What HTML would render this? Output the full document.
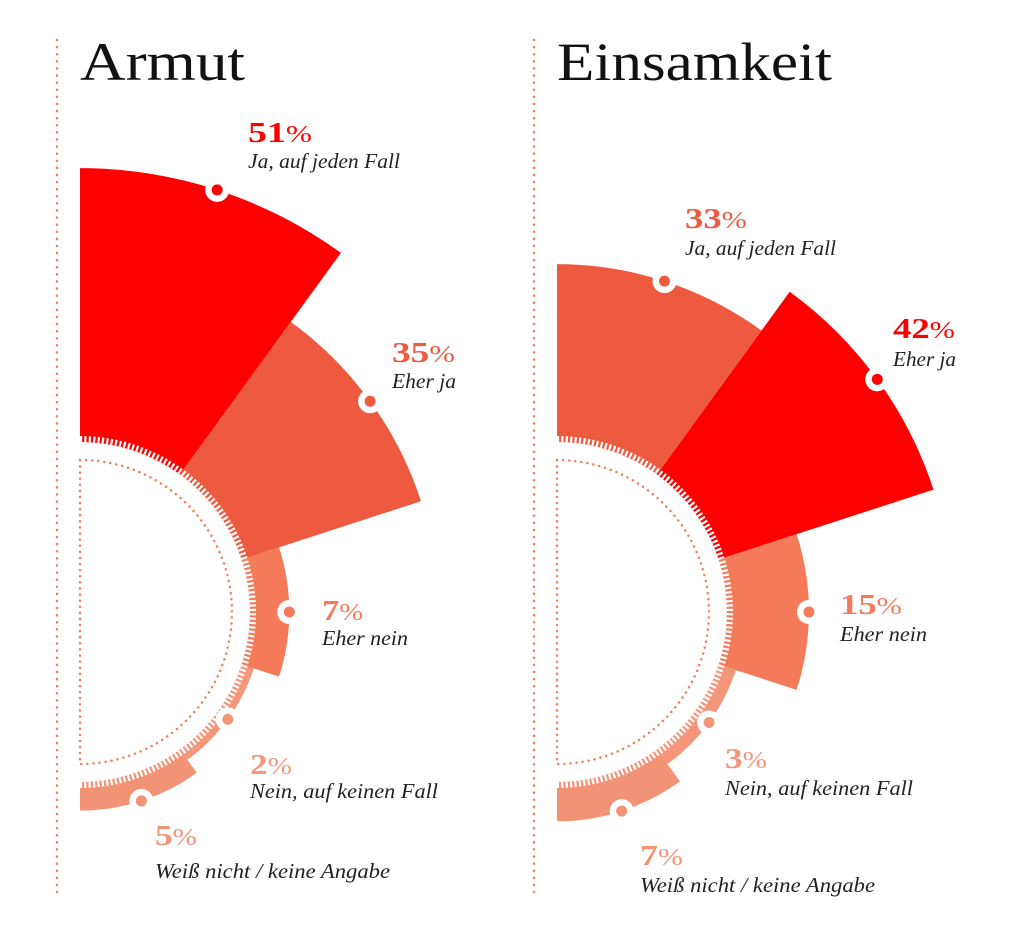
<!DOCTYPE html>
<html><head><meta charset="utf-8"><style>
html,body{margin:0;padding:0;background:#fff}
svg{display:block}
.t{font-family:"Liberation Serif",serif;font-size:54px;fill:#111}
.p{font-family:"Liberation Serif",serif;font-size:29px;font-weight:bold}
.l{font-family:"Liberation Serif",serif;font-size:21px;font-style:italic;fill:#222}
</style></head><body>
<svg id="s" width="1031" height="931" viewBox="0 0 1031 931" xmlns="http://www.w3.org/2000/svg">
<line x1="57" y1="40" x2="57" y2="892" stroke="#f08060" stroke-width="2.5" stroke-dasharray="0.1 7" stroke-linecap="round"/>
<line x1="534" y1="40" x2="534" y2="892" stroke="#f08060" stroke-width="2.5" stroke-dasharray="0.1 7" stroke-linecap="round"/>
<text class="t" x="80" y="80" textLength="165" lengthAdjust="spacingAndGlyphs">Armut</text>
<text class="t" x="557" y="80" textLength="275" lengthAdjust="spacingAndGlyphs">Einsamkeit</text>
<g id="g"></g>
<text class="p" x="248" y="142" fill="#ff0000" textLength="64" lengthAdjust="spacingAndGlyphs">51<tspan font-size="24" font-weight="normal">%</tspan></text><text class="l" x="248" y="168" textLength="152" lengthAdjust="spacingAndGlyphs">Ja, auf jeden Fall</text>
<text class="p" x="392" y="362" fill="#ee5a40" textLength="63" lengthAdjust="spacingAndGlyphs">35<tspan font-size="24" font-weight="normal">%</tspan></text><text class="l" x="392" y="388" textLength="64" lengthAdjust="spacingAndGlyphs">Eher ja</text>
<text class="p" x="322" y="620" fill="#f47a5a" textLength="41" lengthAdjust="spacingAndGlyphs">7<tspan font-size="24" font-weight="normal">%</tspan></text><text class="l" x="322" y="645" textLength="86" lengthAdjust="spacingAndGlyphs">Eher nein</text>
<text class="p" x="250" y="774" fill="#f5957a" textLength="42" lengthAdjust="spacingAndGlyphs">2<tspan font-size="24" font-weight="normal">%</tspan></text><text class="l" x="250" y="798" textLength="188" lengthAdjust="spacingAndGlyphs">Nein, auf keinen Fall</text>
<text class="p" x="155" y="845" fill="#f39375" textLength="42" lengthAdjust="spacingAndGlyphs">5<tspan font-size="24" font-weight="normal">%</tspan></text><text class="l" x="155" y="878" textLength="235" lengthAdjust="spacingAndGlyphs">Weiß nicht / keine Angabe</text>
<text class="p" x="685" y="228" fill="#ee5a40" textLength="62" lengthAdjust="spacingAndGlyphs">33<tspan font-size="24" font-weight="normal">%</tspan></text><text class="l" x="685" y="255" textLength="151" lengthAdjust="spacingAndGlyphs">Ja, auf jeden Fall</text>
<text class="p" x="893" y="338" fill="#ff0000" textLength="62" lengthAdjust="spacingAndGlyphs">42<tspan font-size="24" font-weight="normal">%</tspan></text><text class="l" x="893" y="366" textLength="63" lengthAdjust="spacingAndGlyphs">Eher ja</text>
<text class="p" x="840" y="614" fill="#f47a5a" textLength="62" lengthAdjust="spacingAndGlyphs">15<tspan font-size="24" font-weight="normal">%</tspan></text><text class="l" x="840" y="641" textLength="87" lengthAdjust="spacingAndGlyphs">Eher nein</text>
<text class="p" x="725" y="768" fill="#f5957a" textLength="42" lengthAdjust="spacingAndGlyphs">3<tspan font-size="24" font-weight="normal">%</tspan></text><text class="l" x="725" y="795" textLength="188" lengthAdjust="spacingAndGlyphs">Nein, auf keinen Fall</text>
<text class="p" x="640" y="865" fill="#f39375" textLength="43" lengthAdjust="spacingAndGlyphs">7<tspan font-size="24" font-weight="normal">%</tspan></text><text class="l" x="640" y="892" textLength="235" lengthAdjust="spacingAndGlyphs">Weiß nicht / keine Angabe</text>
</svg>
<script>
var g=document.getElementById('g'),NS='http://www.w3.org/2000/svg';
function el(n,a){var e=document.createElementNS(NS,n);for(var k in a)e.setAttribute(k,a[k]);g.appendChild(e);return e;}
function pt(cx,cy,r,d){var a=d*Math.PI/180;return [cx+r*Math.sin(a),cy-r*Math.cos(a)];}
function chart(cx,cy,vals,cols){
 var rs=vals.map(function(v){return 172+5.33*v;});
 for(var i=0;i<5;i++){var a0=i*36,a1=a0+36,r=rs[i],p0=pt(cx,cy,r,a0),p1=pt(cx,cy,r,a1);
  el('path',{d:'M'+cx+','+cy+'L'+p0[0]+','+p0[1]+'A'+r+','+r+' 0 0 1 '+p1[0]+','+p1[1]+'Z',fill:cols[i]});}
 el('path',{d:'M'+cx+','+(cy-170)+'A170,170 0 0 1 '+cx+','+(cy+170)+'Z',fill:'#fff'});
 el('path',{d:'M'+cx+','+(cy-173)+'A173,173 0 0 1 '+cx+','+(cy+173),fill:'none',stroke:'#fff','stroke-width':6,'stroke-dasharray':'2.2 2.2'});
 el('path',{d:'M'+cx+','+(cy-152)+'A152,152 0 0 1 '+cx+','+(cy+152)+'Z',fill:'none',stroke:'#f08060','stroke-width':2.5,'stroke-dasharray':'0.1 6','stroke-linecap':'round'});
 for(var i=0;i<5;i++){var p=pt(cx,cy,rs[i],i*36+18);
  el('circle',{cx:p[0],cy:p[1],r:12,fill:'#fff'});el('circle',{cx:p[0],cy:p[1],r:5.5,fill:cols[i]});}
}
chart(80,612,[51,35,7,2,5],['#ff0000','#ee5a40','#f47a5a','#f5957a','#f39375']);
chart(557,612,[33,42,15,3,7],['#ee5a40','#ff0000','#f47a5a','#f5957a','#f39375']);
</script>
</body></html>
